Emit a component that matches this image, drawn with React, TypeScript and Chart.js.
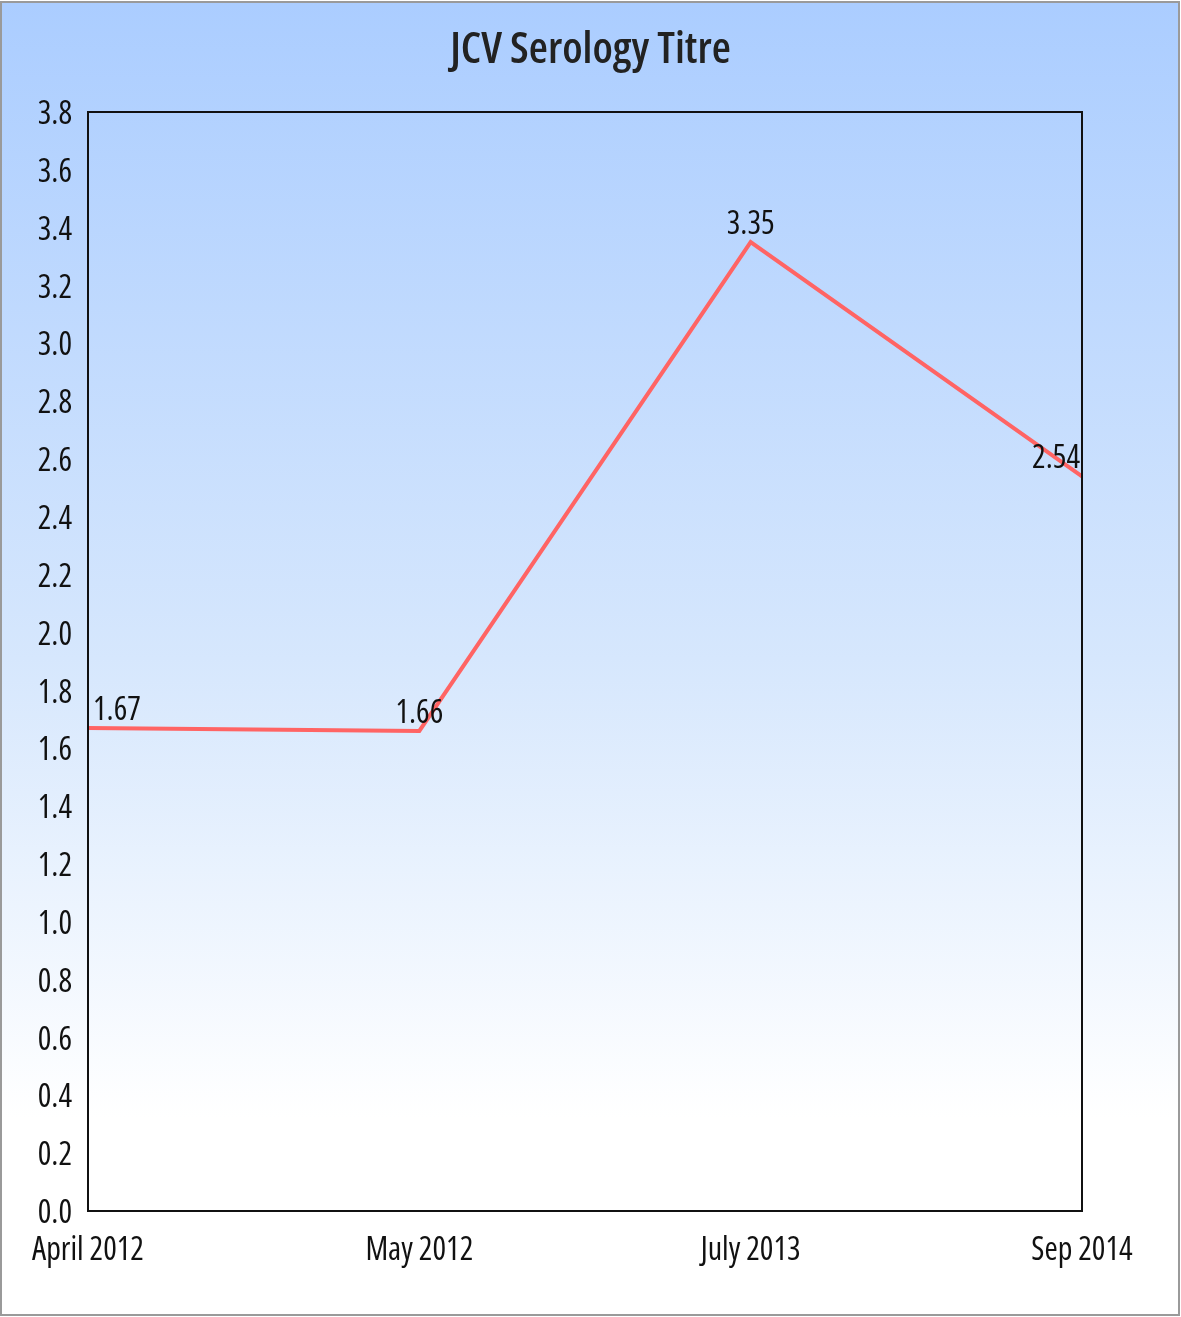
import React, { useEffect, useRef } from "react";
import { Chart, registerables } from "chart.js";

Chart.register(...registerables);

const categories = ["April 2012", "May 2012", "July 2013", "Sep 2014"];
const titreValues = [1.67, 1.66, 3.35, 2.54];
const yMin = 0;
const yMax = 3.8;
const yStep = 0.2;
const chartTitle = "JCV Serology Titre";

const W = 1181;
const H = 1317;
const FAMILY = "'Open Sans', 'DejaVu Sans', sans-serif";

const plotBorder = {
  id: "plotBorder",
  afterDatasetsDraw(chart: any) {
    const { ctx, chartArea: a } = chart;
    ctx.save();
    ctx.strokeStyle = "#111";
    ctx.lineWidth = 2;
    ctx.strokeRect(a.left, a.top, a.right - a.left, a.bottom - a.top);
    ctx.restore();
  },
};

const centeredTitle = {
  id: "centeredTitle",
  afterDraw(chart: any) {
    const { ctx } = chart;
    ctx.save();
    ctx.font = `normal 600 condensed 44px ${FAMILY}`;
    ctx.fillStyle = "#222";
    ctx.textAlign = "center";
    ctx.textBaseline = "alphabetic";
    ctx.fillText(chartTitle, chart.width / 2, 63);
    ctx.restore();
  },
};

const valueLabels = {
  id: "valueLabels",
  afterDraw(chart: any) {
    const { ctx, chartArea: a } = chart;
    const meta = chart.getDatasetMeta(0);
    const data = chart.data.datasets[0].data;
    ctx.save();
    ctx.font = `normal condensed 32px ${FAMILY}`;
    ctx.fillStyle = "#111";
    ctx.textAlign = "left";
    ctx.textBaseline = "alphabetic";
    meta.data.forEach((pt: any, i: number) => {
      const text = String(data[i]);
      const w = ctx.measureText(text).width;
      let x = pt.x - w / 2;
      x = Math.max(a.left + 5, Math.min(a.right - 2 - w, x));
      ctx.fillText(text, x, pt.y - 8);
    });
    ctx.restore();
  },
};

export default function App() {
  const ref = useRef<HTMLCanvasElement | null>(null);
  useEffect(() => {
    if (!ref.current) return;
    const chart = new Chart(ref.current, {
      type: "line",
      data: {
        labels: categories,
        datasets: [
          {
            data: titreValues,
            borderColor: "#ff6464",
            borderWidth: 4,
            pointRadius: 0,
            tension: 0,
            fill: false,
          },
        ],
      },
      options: {
        responsive: false,
        animation: false,
        devicePixelRatio: 1,
        layout: { padding: { left: 0, right: 99, top: 112, bottom: 0 } },
        plugins: {
          legend: { display: false },
          tooltip: { enabled: false },
          title: { display: false },
        },
        scales: {
          x: {
            offset: false,
            grid: { display: false, drawTicks: false },
            border: { display: false },
            ticks: {
              color: "#111",
              padding: 21,
              maxRotation: 0,
              autoSkip: false,
              font: { family: FAMILY, size: 32, weight: "normal condensed" as any },
            },
            afterFit(scale: any) {
              scale.height = 106;
            },
          },
          y: {
            min: yMin,
            max: yMax,
            grid: { display: false, drawTicks: false },
            border: { display: false },
            ticks: {
              stepSize: yStep,
              color: "#111",
              padding: 16,
              labelOffset: 3,
              font: { family: FAMILY, size: 32, weight: "normal condensed" as any },
              callback: (v: any) => Number(v).toFixed(1),
            },
            afterFit(scale: any) {
              scale.width = 88;
            },
          },
        },
      },
      plugins: [plotBorder, valueLabels, centeredTitle],
    });
    return () => chart.destroy();
  }, []);

  return (
    <div
      style={{
        position: "absolute",
        left: 0,
        top: 0,
        width: W,
        height: H,
        background: "white",
      }}
    >
      <div
        style={{
          position: "absolute",
          left: 0,
          top: 1,
          width: 1180,
          height: 1315,
          boxSizing: "border-box",
          border: "2px solid #9a9a9a",
          background: "linear-gradient(to bottom, #abcdff 0%, #d6e7fd 50%, #ffffff 85%)",
        }}
      />
      <canvas
        ref={ref}
        width={W}
        height={H}
        style={{ position: "absolute", left: 0, top: 0, width: W, height: H }}
      />
    </div>
  );
}
